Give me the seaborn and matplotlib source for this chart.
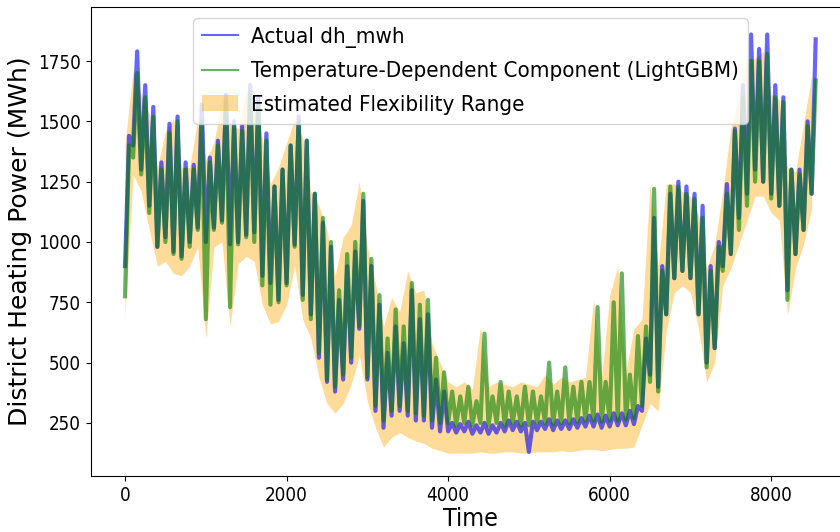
import os
import numpy as np
import pandas as pd
import matplotlib
matplotlib.use("Agg")
import matplotlib.pyplot as plt
from matplotlib import font_manager as fm
import seaborn as sns

# Hour of year (bins of 100 h)
hours = np.arange(0, 8600, 100)

actual_lo = [900, 1400, 1300, 1150, 980, 1020, 960, 940, 1000, 1060,
             1000, 1060, 1090, 990, 1000, 1030, 1040, 860, 830, 760,
             830, 990, 780, 700, 520, 420, 380, 430, 500, 640,
             430, 300, 230, 280, 300, 280, 260, 260, 230, 215,
             215, 210, 215, 205, 210, 205, 210, 215, 220, 215,
             130, 220, 225, 220, 225, 225, 230, 235, 235, 230,
             235, 240, 240, 245, 300, 450, 400, 700, 850, 880,
             850, 700, 500, 560, 900, 950, 1100, 1200, 1300, 1250,
             1200, 1150, 800, 950, 1050, 1200]
actual_hi = [1440, 1790, 1650, 1560, 1330, 1490, 1520, 1330, 1320, 1570,
             1350, 1420, 1610, 1500, 1480, 1650, 1600, 1450, 1230, 1300,
             1400, 1520, 1420, 1200, 1080, 980, 760, 900, 960, 1170,
             900, 740, 540, 650, 580, 800, 680, 700, 430, 380,
             250, 245, 255, 240, 250, 240, 250, 260, 255, 250,
             255, 255, 265, 260, 260, 265, 270, 280, 285, 280,
             290, 290, 300, 320, 600, 1100, 900, 1200, 1250, 1230,
             1200, 1150, 900, 1000, 1240, 1470, 1650, 1860, 1800, 1860,
             1650, 1600, 1300, 1300, 1500, 1840]

temp_lo = [775, 1350, 1280, 1120, 980, 1000, 950, 930, 980, 1050,
           680, 1050, 1080, 730, 990, 1020, 1000, 820, 740, 750,
           820, 980, 760, 680, 540, 430, 400, 450, 520, 650,
           440, 320, 260, 300, 320, 300, 290, 280, 260, 250,
           250, 240, 250, 240, 250, 240, 250, 240, 250, 240,
           240, 250, 250, 245, 250, 250, 255, 260, 260, 255,
           260, 260, 265, 270, 320, 420, 380, 700, 850, 880,
           850, 700, 480, 560, 880, 950, 1050, 1150, 1250, 1250,
           1180, 1150, 760, 950, 1050, 1200]
temp_hi = [1400, 1700, 1600, 1520, 1300, 1450, 1500, 1300, 1300, 1500,
           1330, 1400, 1580, 1480, 1460, 1620, 1580, 1420, 1230, 1300,
           1400, 1500, 1420, 1200, 1100, 1000, 800, 950, 1000, 1200,
           930, 780, 600, 720, 650, 830, 740, 760, 520, 460,
           380, 360, 400, 340, 620, 360, 420, 380, 360, 400,
           380, 360, 500, 380, 480, 400, 420, 420, 730, 420,
           750, 870, 450, 610, 650, 1220, 880, 1230, 1230, 1200,
           1180, 1100, 880, 980, 1200, 1460, 1600, 1750, 1750, 1780,
           1600, 1580, 1300, 1280, 1480, 1670]

flex_lo = [690, 1280, 1210, 1050, 900, 920, 870, 860, 900, 980,
           600, 980, 1000, 650, 910, 940, 920, 740, 660, 670,
           740, 900, 680, 600, 440, 330, 290, 330, 410, 530,
           340, 230, 150, 190, 210, 190, 175, 165, 145, 135,
           125, 125, 125, 125, 130, 125, 125, 130, 130, 125,
           125, 130, 130, 130, 135, 130, 135, 140, 140, 135,
           140, 145, 145, 150, 240, 330, 300, 630, 790, 820,
           790, 640, 420, 500, 820, 890, 990, 1090, 1190, 1190,
           1120, 1090, 700, 890, 990, 1140]
flex_hi = [1410, 1710, 1610, 1530, 1310, 1460, 1510, 1310, 1310, 1510,
           1340, 1410, 1590, 1490, 1470, 1630, 1590, 1430, 1240, 1310,
           1410, 1510, 1430, 1210, 1150, 1050, 860, 1020, 1070, 1250,
           980, 830, 650, 770, 710, 880, 790, 800, 580, 500,
           420, 400, 420, 390, 650, 400, 420, 410, 400, 420,
           410, 400, 450, 410, 440, 420, 430, 440, 760, 440,
           780, 900, 460, 640, 680, 1240, 900, 1240, 1240, 1210,
           1190, 1110, 890, 990, 1210, 1470, 1610, 1760, 1760, 1790,
           1610, 1590, 1310, 1290, 1490, 1690]

x_ticks = [0, 2000, 4000, 6000, 8000]
y_ticks = [250, 500, 750, 1000, 1250, 1500, 1750]


def zigzag(lo, hi):
    t = np.column_stack([hours, hours + 50]).ravel()
    v = np.column_stack([lo, hi]).ravel()
    return pd.DataFrame({"Time": t, "Value": v})


actual_df = zigzag(actual_lo, actual_hi)
temp_df = zigzag(temp_lo, temp_hi)
flex_df = pd.DataFrame({"Time": hours, "lo": flex_lo, "hi": flex_hi})

plt.rcParams["font.family"] = ["DejaVu Sans"]


def condensed_font_file():
    for f in fm.fontManager.ttflist:
        base = os.path.basename(f.fname).lower()
        if base.startswith("dejavusanscondensed."):
            return f.fname
    for f in fm.fontManager.ttflist:
        base = os.path.basename(f.fname).lower()
        if base.startswith("liberationsansnarrow-regular"):
            return f.fname
    return None


cfile = condensed_font_file()


def cprop(size):
    if cfile:
        return fm.FontProperties(fname=cfile, size=size)
    return fm.FontProperties(family="DejaVu Sans", size=size)


fig = plt.figure(figsize=(8.4, 5.32), dpi=100)
ax = fig.add_axes([90.5 / 840, 56 / 532, 759.7 / 840, 469 / 532])

ax.fill_between(flex_df["Time"], flex_df["lo"], flex_df["hi"],
                color="orange", alpha=0.4, linewidth=0,
                label="Estimated Flexibility Range", zorder=1)
sns.lineplot(data=actual_df, x="Time", y="Value", ax=ax, color="blue",
             alpha=0.6, linewidth=3.0, label="Actual dh_mwh",
             estimator=None, sort=False, zorder=2)
sns.lineplot(data=temp_df, x="Time", y="Value", ax=ax, color="green",
             alpha=0.6, linewidth=3.0,
             label="Temperature-Dependent Component (LightGBM)",
             estimator=None, sort=False, zorder=3)

ax.set_ylim(30, 1974)
ax.set_xticks(x_ticks)
ax.set_yticks(y_ticks)
for lbl in ax.get_xticklabels() + ax.get_yticklabels():
    lbl.set_fontproperties(cprop(13.5))
ax.set_xlabel("Time", fontproperties=cprop(18), labelpad=2)
ax.set_ylabel("District Heating Power (MWh)", fontsize=18, labelpad=4)

handles, labels = ax.get_legend_handles_labels()
order = ["Actual dh_mwh", "Temperature-Dependent Component (LightGBM)",
         "Estimated Flexibility Range"]
hmap = dict(zip(labels, handles))
leg = ax.legend([hmap[k] for k in order], order, loc="upper center",
                prop=cprop(16), handlelength=1.6, handletextpad=0.6,
                labelspacing=0.6)
for line in leg.get_lines():
    line.set_linewidth(1.5)

fig.savefig("out.png", dpi=100)
